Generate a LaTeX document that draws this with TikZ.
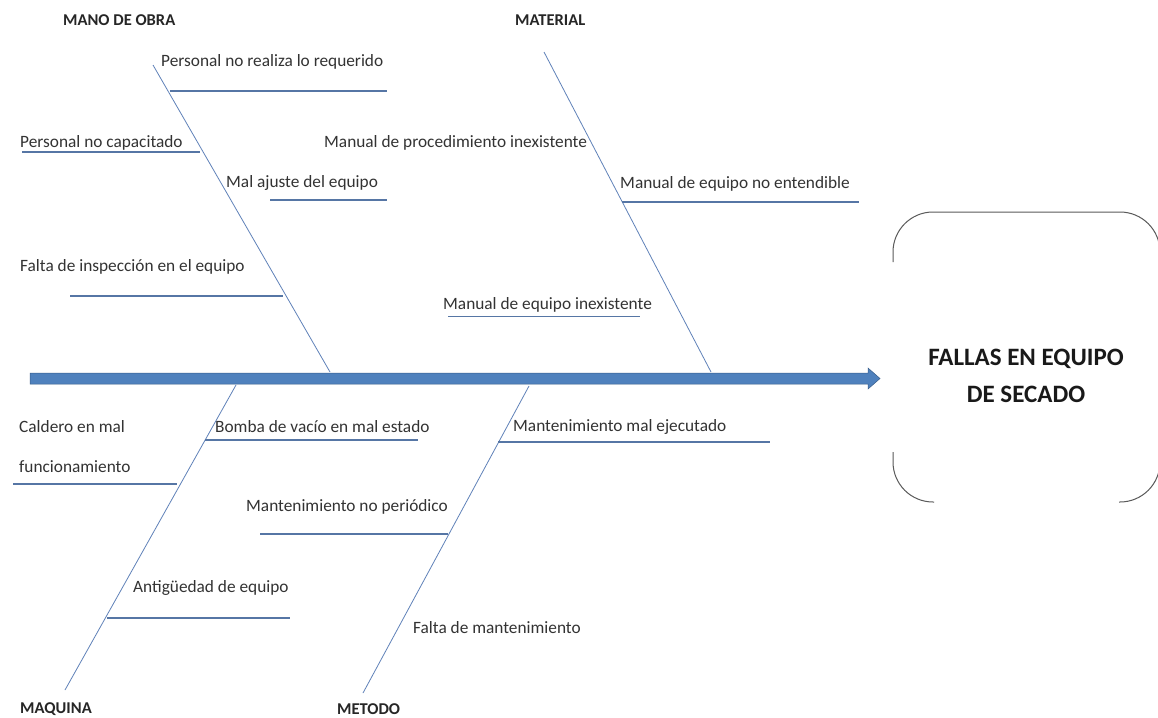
\documentclass[tikz,border=0pt]{standalone}
\usepackage{fontspec}
\setmainfont{Carlito}
\definecolor{spinefill}{RGB}{79,129,189}
\definecolor{spineedge}{RGB}{56,93,138}
\definecolor{bonecol}{RGB}{96,130,185}
\definecolor{twigcol}{RGB}{86,118,165}
\definecolor{boxcol}{RGB}{90,90,90}
\begin{document}
\begin{tikzpicture}[x=1pt,y=-1pt,
  bone/.style={draw=bonecol, line width=0.8pt},
  twig/.style={draw=twigcol, line width=1.1pt},
  lbl/.style={font=\fontsize{17.3}{20}\selectfont, text=black!80, inner sep=0pt, anchor=west},
  cat/.style={font=\bfseries\fontsize{16.5}{18}\selectfont, text=black!85, inner sep=0pt, anchor=west},
  boxedge/.style={draw=boxcol, line width=1pt, rounded corners=40pt}]
\clip (0,0) rectangle (1158,717);
\fill[white] (0,0) rectangle (1158,717);

% main spine arrow
\coordinate (tail) at (30,378.5);
\coordinate (tip) at (880,378.5);
\filldraw[fill=spinefill, draw=spineedge, line width=0.5pt]
  (30,373) -- (868,373) -- (868,368) -- (tip) -- (868,389) -- (868,384) -- (30,384) -- cycle;

% effect box (top edge and corners)
\node[font=\bfseries\fontsize{25}{37}\selectfont, align=center, text=black!90] (goal) at (1026,376)
  {FALLAS EN EQUIPO\\DE SECADO};
\draw[boxedge] (893,262) -- (893,212) -- (1160,212) -- (1160,262);
\draw[boxedge] (893,452) -- (893,502) -- (934,502);
\draw[boxedge] (1119,502) -- (1160,502) -- (1160,452);

% category labels
\node[cat] (mano) at (63,20) {MANO DE OBRA};
\node[cat] (mat) at (515,20) {MATERIAL};
\node[cat] (maq) at (20,709) {MAQUINA};
\node[cat] (met) at (337,709) {METODO};

% main bones
\coordinate (mo-top) at (153,65);   \coordinate (mo-foot) at (330,372);
\coordinate (ma-top) at (544,52);   \coordinate (ma-foot) at (711,372);
\coordinate (mq-top) at (236,385);  \coordinate (mq-foot) at (65,690);
\coordinate (me-top) at (529,386);  \coordinate (me-foot) at (363,693);
\draw[bone] (mo-top) -- (mo-foot);
\draw[bone] (ma-top) -- (ma-foot);
\draw[bone] (mq-top) -- (mq-foot);
\draw[bone] (me-top) -- (me-foot);

% MANO DE OBRA causes
\node[lbl] (c1) at (161,62) {Personal no realiza lo requerido};
\coordinate (c1a) at (170,91); \coordinate (c1b) at (387,91);
\draw[twig] (c1a) -- (c1b);
\node[lbl] (c2) at (20,143) {Personal no capacitado};
\coordinate (c2a) at (22,152); \coordinate (c2b) at (200,152);
\draw[twig] (c2a) -- (c2b);
\node[lbl] (c3) at (226,183) {Mal ajuste del equipo};
\coordinate (c3a) at (270,200); \coordinate (c3b) at (387,200);
\draw[twig] (c3a) -- (c3b);
\node[lbl] (c4) at (20,267) {Falta de inspección en el equipo};
\coordinate (c4a) at (70,296); \coordinate (c4b) at (283,296);
\draw[twig] (c4a) -- (c4b);

% MATERIAL causes
\node[lbl] (c5) at (324,143) {Manual de procedimiento inexistente};
\node[lbl] (c6) at (620,184) {Manual de equipo no entendible};
\coordinate (c6a) at (622,202); \coordinate (c6b) at (859,202);
\draw[twig] (c6a) -- (c6b);
\node[lbl] (c7) at (443,305) {Manual de equipo inexistente};
\coordinate (c7a) at (448,316); \coordinate (c7b) at (640,316);
\draw[twig, line width=0.8pt] (c7a) -- (c7b);

% MAQUINA causes
\node[lbl] (c8) at (215,427) {Bomba de vacío en mal estado};
\coordinate (c8a) at (205,440); \coordinate (c8b) at (418,440);
\draw[twig] (c8a) -- (c8b);
\node[lbl, font=\fontsize{17.3}{40}\selectfont, align=left] (c9) at (19,447) {Caldero en mal\\funcionamiento};
\coordinate (c9a) at (13,484); \coordinate (c9b) at (177,484);
\draw[twig] (c9a) -- (c9b);
\node[lbl] (c11) at (133,588) {Antigüedad de equipo};
\coordinate (c11a) at (107,618); \coordinate (c11b) at (290,618);
\draw[twig] (c11a) -- (c11b);

% METODO causes
\node[lbl] (c12) at (513,427) {Mantenimiento mal ejecutado};
\coordinate (c12a) at (498,442); \coordinate (c12b) at (770,442);
\draw[twig] (c12a) -- (c12b);
\node[lbl] (c10) at (246,507) {Mantenimiento no periódico};
\coordinate (c10a) at (260,534); \coordinate (c10b) at (448,534);
\draw[twig] (c10a) -- (c10b);
\node[lbl] (c13) at (413,628) {Falta de mantenimiento};
\end{tikzpicture}
\end{document}
